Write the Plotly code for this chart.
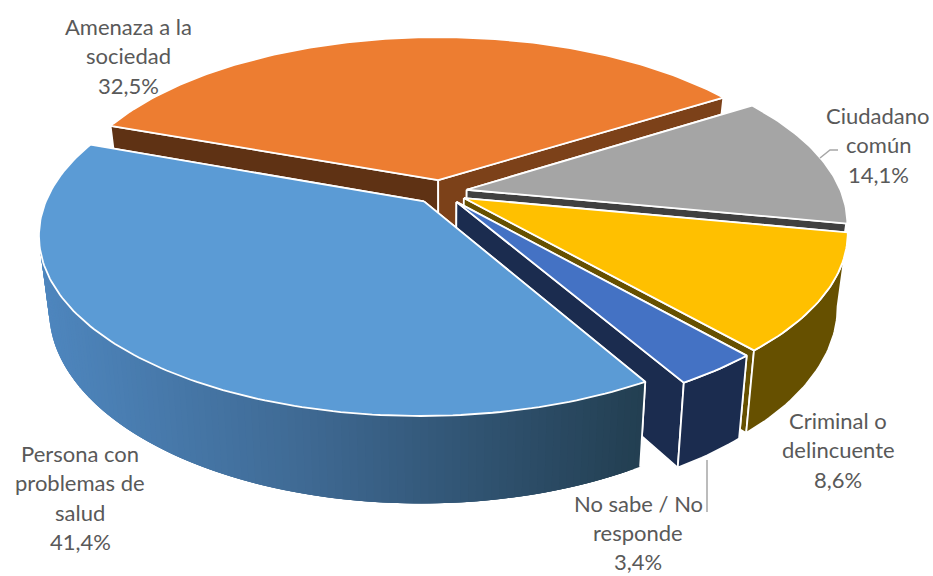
import math
import plotly.graph_objects as go

categories = ["Amenaza a la sociedad", "Ciudadano común", "Criminal o delincuente",
              "No sabe / No responde", "Persona con problemas de salud"]
values = [32.5, 14.1, 8.6, 3.4, 41.4]
value_labels = ["32,5%", "14,1%", "8,6%", "3,4%", "41,4%"]
label_lines = [["Amenaza a la", "sociedad", "32,5%"],
               ["Ciudadano", "común", "14,1%"],
               ["Criminal o", "delincuente", "8,6%"],
               ["No sabe / No", "responde", "3,4%"],
               ["Persona con", "problemas de", "salud", "41,4%"]]
label_x = [128, 878, 838, 638, 80]
label_y = [26, 115, 420, 503, 453]
label_gap = [29.5, 29.5, 29.5, 29, 29.5]

top_colors = ["#ED7D31", "#A5A5A5", "#FFC000", "#4472C4", "#5B9BD5"]
wall_colors = ["#7C4119", "#404040", "#665000", "#1B2C4F", "#2A4A63"]
start_wall_colors = ["#5F3214", "#404040", "#665000", "#1B2C4F", "#2A4A63"]
view_correction = [10.5, -7.3, 7.0, -1.2, -9.0]

CX, CY, R, RB, K, H, C, EXPLODE, START = 441, 192, 374.5, 172.5, 0.179, 71, 0.975, 0.07, -70
GRAD_X = [40, 300, 640]
GRAD_C = [(78, 134, 190), (63, 106, 148), (35, 63, 82)]


def project(X, Y, low=False):
    s = 1 / (1 + K * Y)
    x = CX + R * X * s
    y = CY - RB * Y * s
    if low:
        x = CX + (x - CX) * C
        y += H * s
    return x, y


def grad(x):
    x = max(GRAD_X[0], min(GRAD_X[-1], x))
    for i in range(len(GRAD_X) - 1):
        if x <= GRAD_X[i + 1]:
            t = (x - GRAD_X[i]) / (GRAD_X[i + 1] - GRAD_X[i])
            a, b = GRAD_C[i], GRAD_C[i + 1]
            return "rgb(%d,%d,%d)" % tuple(round(a[j] + (b[j] - a[j]) * t) for j in range(3))
    return "rgb(35,63,82)"


fig = go.Figure()


def poly(pts, fill=None, line="white", width=1.8, name=None, closed=True):
    xs = [p[0] for p in pts] + ([pts[0][0]] if closed else [])
    ys = [p[1] for p in pts] + ([pts[0][1]] if closed else [])
    fig.add_trace(go.Scatter(
        x=xs, y=ys, mode="lines", name=name or "",
        fill="toself" if fill else None, fillcolor=fill,
        line=dict(color=line, width=width),
        hoverinfo="text" if name else "skip", text=name, showlegend=False))


angle = START
for i, v in enumerate(values):
    sweep = v * 3.6 + view_correction[i]
    a0, a1 = angle, angle + sweep
    angle = a1
    mid = math.radians((v * 3.6 / 2) + a0 + view_correction[i] / 2)
    ox, oy = EXPLODE * math.sin(mid), EXPLODE * math.cos(mid)
    n = max(3, int(sweep))
    arc, front = [], []
    for j in range(n + 1):
        t = math.radians(a0 + sweep * j / n)
        p = (ox + math.sin(t), oy + math.cos(t))
        arc.append(p)
        if math.cos(t) < -0.15:
            front.append(p)
    apex = (ox, oy)
    # radial walls
    for p, col in ((arc[0], start_wall_colors[i]), (arc[-1], wall_colors[i])):
        poly([project(*apex), project(*p), project(*p, True), project(*apex, True)], col)
    # outer wall: only the part that faces the viewer
    upper = [project(*p) for p in front]
    lower = [project(*p, True) for p in front]
    if i == 4:
        m = len(front)
        for j in range(m - 1):
            e = min(j + 3, m - 1)
            q = upper[j:e + 1] + lower[j:e + 1][::-1]
            c = grad((upper[j][0] + upper[j + 1][0]) / 2)
            poly(q, c, line="rgba(0,0,0,0)", width=0)
        poly([upper[0], lower[0]], None, "white", 1.8, closed=False)
    elif len(front) >= 2:
        poly(upper + lower[::-1], wall_colors[i])
    # top
    poly([project(*apex)] + [project(*p) for p in arc], top_colors[i],
         name="%s: %s" % (categories[i], value_labels[i]))

leader_x = [[820, 830, 838], [707, 707]]
leader_y = [[158, 150, 150], [460, 512]]
for lx, ly in zip(leader_x, leader_y):
    fig.add_trace(go.Scatter(x=lx, y=ly, mode="lines", line=dict(color="#A6A6A6", width=1.5),
                             hoverinfo="skip", showlegend=False))

annotations = []
for lines, x, y, gap in zip(label_lines, label_x, label_y, label_gap):
    for k, line in enumerate(lines):
        annotations.append(dict(x=x, y=y + k * gap, text=line, showarrow=False,
                                xanchor="center", yanchor="middle",
                                font=dict(family="Lato", size=22, color="#595959")))

fig.update_layout(
    width=933, height=576, margin=dict(l=0, r=0, t=0, b=0),
    paper_bgcolor="white", plot_bgcolor="white", showlegend=False,
    xaxis=dict(range=[0, 933], visible=False, fixedrange=True),
    yaxis=dict(range=[576, 0], visible=False, fixedrange=True),
    annotations=annotations)

fig.write_html("out.html", config={"displayModeBar": False},
               post_script="document.body.style.margin='0';document.body.style.overflow='hidden';")
